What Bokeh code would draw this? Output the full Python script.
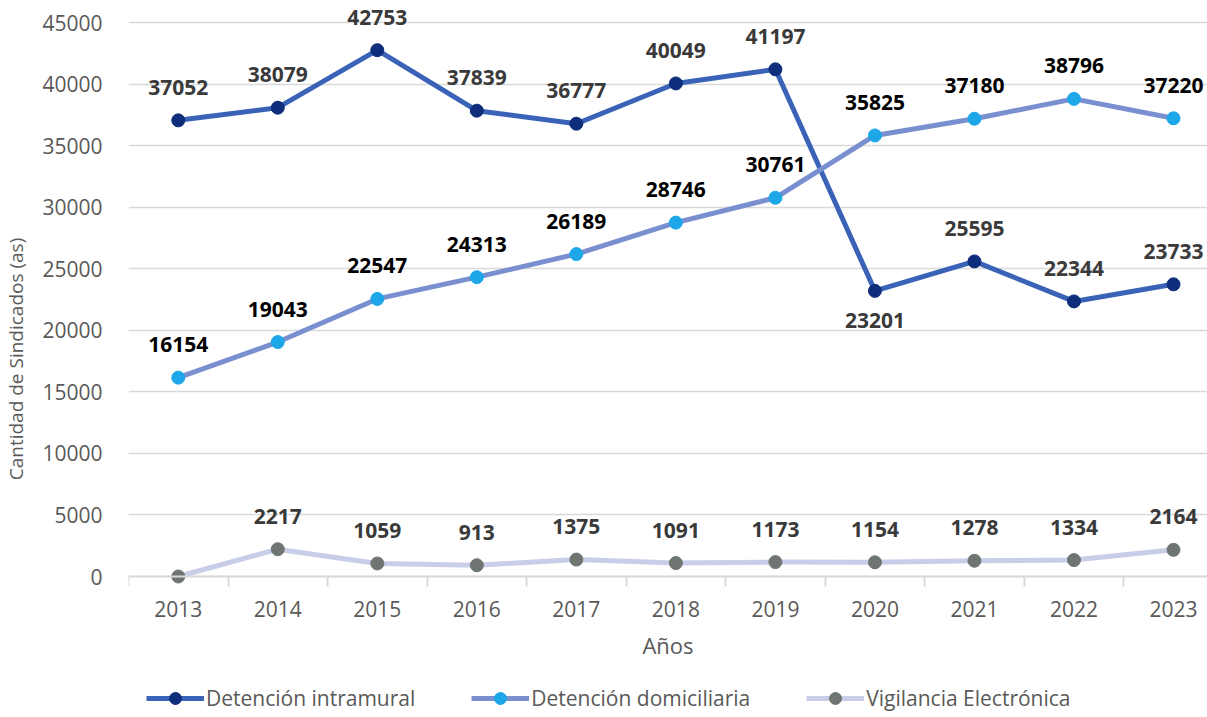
from bokeh.plotting import figure
from bokeh.models import (ColumnDataSource, FixedTicker, LabelSet, Legend, LegendItem)
from bokeh.core.properties import value
from bokeh.embed import file_html
from bokeh.resources import INLINE

years = [2013, 2014, 2015, 2016, 2017, 2018, 2019, 2020, 2021, 2022, 2023]
intramural = [37052, 38079, 42753, 37839, 36777, 40049, 41197, 23201, 25595, 22344, 23733]
domiciliaria = [16154, 19043, 22547, 24313, 26189, 28746, 30761, 35825, 37180, 38796, 37220]
vigilancia = [0, 2217, 1059, 913, 1375, 1091, 1173, 1154, 1278, 1334, 2164]
y_ticks = [0, 5000, 10000, 15000, 20000, 25000, 30000, 35000, 40000, 45000]
series_names = ["Detención intramural", "Detención domiciliaria", "Vigilancia Electrónica"]

FONT = "Open Sans"
GRID = "#D9D9D9"
TXT = "#595959"

W, H = 1207, 717
PX = 554 / 45000  # pixels per unit
p = figure(width=W, height=H, output_backend="svg", toolbar_location=None,
           x_range=(years[0] - 0.5, years[0] + (W - 178) / 99.5),
           y_range=(-(H - 576) / PX, 576 / PX),
           min_border_left=128, min_border_right=0, min_border_top=0,
           min_border_bottom=0)
p.outline_line_color = None
p.background_fill_color = "white"
p.border_fill_color = "white"

# x axis drawn at y = 0
boundaries = [y - 0.5 for y in years] + [years[-1] + 0.5]
xa = p.xaxis[0]
xa.fixed_location = 0
xa.ticker = FixedTicker(ticks=years, minor_ticks=boundaries)
xa.major_tick_line_color = None
xa.minor_tick_line_color = GRID
xa.minor_tick_line_width = 2
xa.minor_tick_in = 0
xa.minor_tick_out = 10
xa.axis_line_color = GRID
xa.axis_line_width = 2
xa.major_label_text_font = FONT
xa.major_label_text_font_size = "21px"
xa.major_label_text_color = TXT
xa.major_label_standoff = 14
xa.major_label_overrides = {y: str(y) for y in years}
xa.axis_label = "Años"
xa.axis_label_text_font = FONT
xa.axis_label_text_font_size = "22px"
xa.axis_label_text_font_style = "normal"
xa.axis_label_text_color = TXT
xa.axis_label_standoff = 10

# y axis
ya = p.yaxis[0]
ya.ticker = FixedTicker(ticks=y_ticks)
ya.bounds = (y_ticks[0], y_ticks[-1])
ya.axis_line_color = None
ya.major_tick_line_color = None
ya.minor_tick_line_color = None
ya.major_label_text_font = FONT
ya.major_label_text_font_size = "21px"
ya.major_label_text_color = TXT
ya.major_label_standoff = 20
ya.formatter.use_scientific = False
ya.axis_label = "Cantidad de Sindicados (as)"
ya.axis_label_text_font = FONT
ya.axis_label_text_font_size = "19px"
ya.axis_label_text_font_style = "normal"
ya.axis_label_text_color = TXT
ya.axis_label_standoff = 10

p.xgrid.grid_line_color = None
p.ygrid.ticker = FixedTicker(ticks=y_ticks)
p.ygrid.grid_line_color = GRID
p.ygrid.grid_line_width = 1.5

styles = [
    ("#3A63B8", "#0E2D7A", "#3a3a3a"),
    ("#7A8FD0", "#1EA7E8", "#000000"),
    ("#C8CDE8", "#6F7672", "#3a3a3a"),
]
all_values = [intramural, domiciliaria, vigilancia]
items = []
for name, vals, (lc, mc, tc) in zip(series_names, all_values, styles):
    if name == "Detención intramural":
        offs = [-30 if (i > 0 and vals[i] < vals[i - 1] - 10000) else 33 for i in range(len(vals))]
    else:
        offs = [33] * len(vals)
    src = ColumnDataSource(dict(x=years, y=vals,
                                lab=[str(v) if v > 0 else "" for v in vals],
                                off=offs))
    r1 = p.line("x", "y", source=src, line_color=lc, line_width=5, line_join="round")
    r2 = p.scatter("x", "y", source=src, size=13, fill_color=mc, line_color=mc)
    items.append(LegendItem(label=name, renderers=[r1, r2]))
    ls = LabelSet(x="x", y="y", text="lab", source=src, y_offset="off",
                  text_align="center", text_baseline="middle",
                  text_font=value(FONT), text_font_size="21px", text_font_style="bold",
                  text_color=tc)
    p.add_layout(ls)

legend = Legend(items=items, orientation="horizontal", location=(18, 4))
legend.glyph_width = 58
legend.glyph_height = 30
legend.label_height = 26
legend.label_standoff = 2
legend.spacing = 56
legend.padding = 0
legend.margin = 0
legend.border_line_color = None
legend.background_fill_alpha = 0
legend.label_text_font = FONT
legend.label_text_font_size = "21px"
legend.label_text_color = TXT
p.add_layout(legend, "center")

open("out.html", "w").write(file_html(p, INLINE))
